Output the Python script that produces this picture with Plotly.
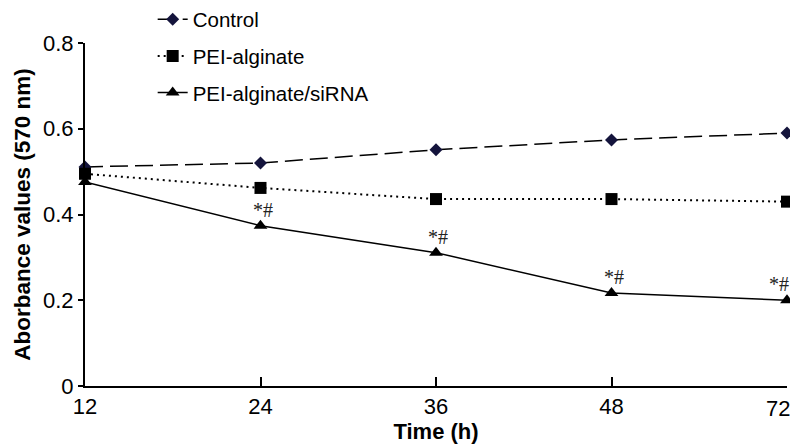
import plotly.graph_objects as go

time_labels = ["12", "24", "36", "48", "72"]
control = [0.511, 0.520, 0.551, 0.574, 0.590]
pei_alginate = [0.495, 0.462, 0.436, 0.436, 0.430]
pei_sirna = [0.476, 0.374, 0.311, 0.217, 0.200]
sig_marks = ["", "*#", "*#", "*#", "*#"]

fig = go.Figure()
fig.add_trace(go.Scatter(
    x=time_labels, y=control, name="Control", mode="lines+markers",
    legendgroup="a",
    line=dict(color="black", width=1.5, dash="18px,7px"),
    marker=dict(symbol="diamond", size=10, color="#14143c"),
    cliponaxis=False))
fig.add_trace(go.Scatter(
    x=time_labels, y=pei_alginate, name="PEI-alginate", mode="lines+markers",
    legendgroup="b",
    line=dict(color="black", width=2, dash="2px,4px"),
    marker=dict(symbol="square", size=12, color="black"),
    cliponaxis=False))
fig.add_trace(go.Scatter(
    x=time_labels, y=pei_sirna, name="PEI-alginate/siRNA", mode="lines+markers",
    legendgroup="c",
    line=dict(color="black", width=1.5),
    marker=dict(symbol="triangle-up", size=12, color="black"),
    cliponaxis=False))

n = len(time_labels)
for i, (yv, s) in enumerate(zip(pei_sirna, sig_marks)):
    if s:
        fig.add_annotation(x=i, y=yv, text=s, showarrow=False, yshift=16,
                           xshift=(-8 if i == n - 1 else 2),
                           font=dict(family="Liberation Serif", size=20, color="#222"))

# last tick label is drawn as an annotation nudged left so it stays inside the window
fig.add_annotation(x=n - 1, y=0, xref="x", yref="y", text=time_labels[-1],
                   showarrow=False, yanchor="top", yshift=-8, xshift=-9,
                   font=dict(family="Liberation Sans, Arial", size=22, color="black"))

# the page body adds an 8px margin, so the figure is sized to fit the 798x447 window
fig.update_layout(
    width=790, height=439,
    margin=dict(l=77, r=11, t=35, b=61, autoexpand=False),
    paper_bgcolor="white", plot_bgcolor="white",
    font=dict(family="Liberation Sans, Arial", color="black", size=22),
    showlegend=True,
    legend=dict(x=0.0964, y=1.127, xanchor="left", yanchor="top",
                font=dict(size=20.5), itemwidth=30, tracegroupgap=7,
                bgcolor="rgba(0,0,0,0)"),
    xaxis=dict(type="category", range=[0, 4], showline=True, linecolor="black",
               linewidth=2, ticks="inside", ticklen=9, tickwidth=2,
               tickcolor="black", showgrid=False, zeroline=False,
               tickmode="array", tickvals=time_labels,
               ticktext=time_labels[:-1] + [""],
               tickfont=dict(size=22),
               title=dict(text="<b>Time (h)</b>", font=dict(size=22), standoff=4)),
    yaxis=dict(range=[0, 0.8], tickvals=[0, 0.2, 0.4, 0.6, 0.8],
               ticktext=["0", "0.2", "0.4", "0.6", "0.8"],
               showline=True, linecolor="black", linewidth=2,
               ticks="outside", ticklen=5, tickwidth=1.5, tickcolor="black",
               showgrid=False, zeroline=False,
               tickfont=dict(size=22),
               title=dict(text="<b>Aborbance values (570 nm)</b>", font=dict(size=22.5), standoff=6)),
)

fig.write_html("out.html")
